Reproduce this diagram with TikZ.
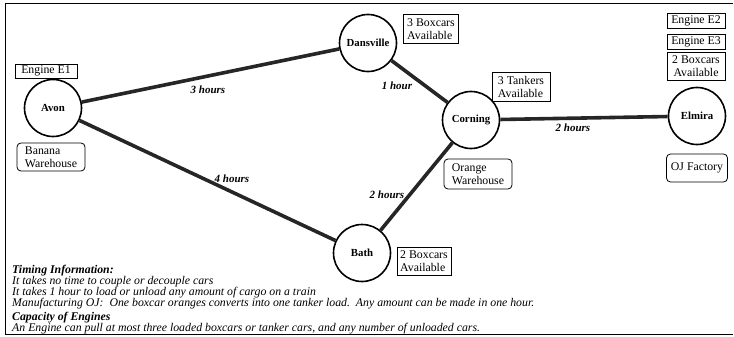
\documentclass[tikz,border=0pt]{standalone}
\usepackage{fontspec}
\setmainfont{Liberation Serif}
\begin{document}
\begin{tikzpicture}[x=1pt,y=-1pt,
  city/.style={circle, draw, line width=1.6pt, minimum size=57pt, inner sep=0pt, font=\bfseries\fontsize{10.8}{12}\selectfont},
  tag/.style={draw, line width=0.8pt, inner sep=1.5pt, font=\fontsize{11.8}{12.5}\selectfont},
  place/.style={draw, rounded corners=4pt, line width=0.8pt, inner sep=1.5pt, font=\fontsize{11.8}{12.5}\selectfont},
  track/.style={line width=3.6pt, black!85},
  hrs/.style={font=\bfseries\itshape\fontsize{11}{12}\selectfont},
  note/.style={font=\itshape\fontsize{11.8}{11}\selectfont, align=left, inner sep=0pt}]
\useasboundingbox (0,0) rectangle (734,337);
\draw[line width=1pt] (733,4) -- (5,4) -- (5,334) -- (733,334);

\node[city] (avon) at (53,108) {Avon};
\node[city] (dans) at (368,43) {Dansville};
\node[city] (corn) at (471,120) {Corning};
\node[city] (bath) at (362,253) {Bath};
\node[city] (elm) at (697,116) {Elmira};

\draw[track] (avon) -- (dans);
\draw[track] (avon) -- (bath);
\draw[track] (dans) -- (corn);
\draw[track] (corn) -- (bath);
\draw[track] (corn) -- (elm);

\node[hrs] (h1) at (208,90) {3 hours};
\node[hrs] (h2) at (232,179) {4 hours};
\node[hrs] (h3) at (397,86) {1 hour};
\node[hrs] (h4) at (387,195) {2 hours};
\node[hrs] (h5) at (573,128) {2 hours};

\node[tag, minimum width=62pt, minimum height=14pt] (e1) at (46,71) {Engine E1};
\node[place, minimum width=68pt, minimum height=28pt, align=left] (banana) at (51,157) {Banana\\Warehouse};
\node[tag, minimum width=55pt, minimum height=29pt, align=left] (dbox) at (431,29) {3 Boxcars\\Available};
\node[tag, minimum width=58pt, minimum height=29pt, align=left] (tank) at (521,87) {3 Tankers\\Available};
\node[place, minimum width=68pt, minimum height=30pt, align=left] (orange) at (478,174) {Orange\\Warehouse};
\node[tag, minimum width=54pt, minimum height=28pt, align=left] (bbox) at (424,261) {2 Boxcars\\Available};
\node[tag, minimum width=58pt, minimum height=15pt] (e2) at (696,20.5) {Engine E2};
\node[tag, minimum width=58pt, minimum height=15pt] (e3) at (696,41.5) {Engine E3};
\node[tag, minimum width=58pt, minimum height=28pt, align=center] (ebox) at (696,66) {2 Boxcars\\Available};
\node[place, minimum width=61pt, minimum height=28pt] (oj) at (697,168) {OJ Factory};

\node[note, anchor=north west] (info) at (12,264.5) {%
\textbf{Timing Information:}\\
It takes no time to couple or decouple cars\\
It takes 1 hour to load or unload any amount of cargo on a train\\
Manufacturing OJ:\ \ One boxcar oranges converts into one tanker load.\ \ Any amount can be made in one hour.\\[3pt]
\textbf{Capacity of Engines}\\
An Engine can pull at most three loaded boxcars or tanker cars, and any number of unloaded cars.};
\end{tikzpicture}
\end{document}
